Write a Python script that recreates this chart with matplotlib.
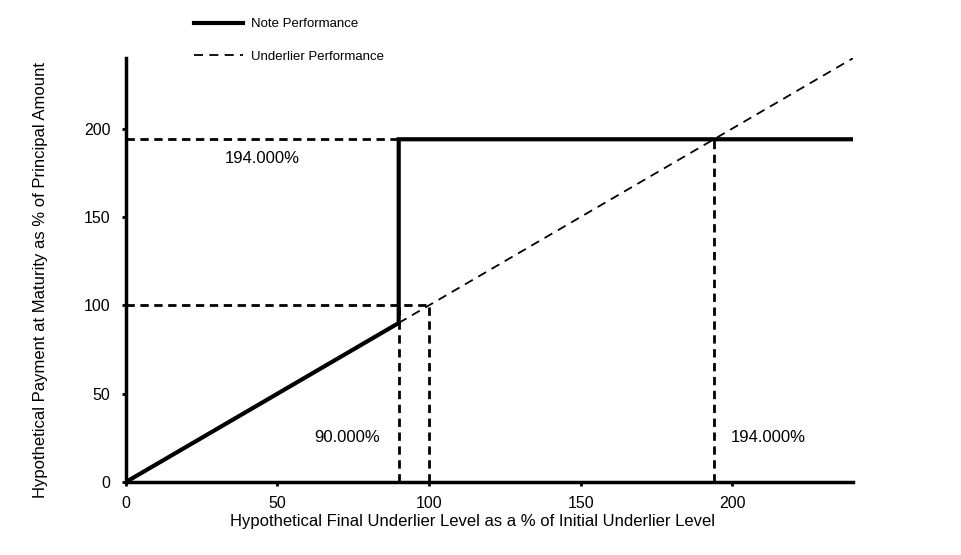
import matplotlib
matplotlib.use("Agg")
import matplotlib.pyplot as plt

plt.rcParams["font.family"] = ["Liberation Sans", "DejaVu Sans"]

# datos del grafico
nota_x = [0, 90, 90, 240]
nota_y = [0, 90, 194, 194]
subyacente_x = [90, 240]
subyacente_y = [90, 240]
cap = 194
umbral = 90
inicial = 100
ticks = [0, 50, 100, 150, 200]
etiquetas = [("194.000%", 45, 183), ("90.000%", 73, 25), ("194.000%", 212, 25)]

fig = plt.figure(figsize=(9.61, 5.55), dpi=100)
ax = fig.add_axes([0.131, 0.1315, 0.757, 0.764])

# lineas de referencia
ref = dict(color="black", linewidth=2, linestyle=(0, (3, 2)))
ax.plot([0, cap], [cap, cap], **ref)
ax.plot([0, inicial], [inicial, inicial], **ref)
ax.plot([umbral, umbral], [0, inicial], **ref)
ax.plot([inicial, inicial], [0, inicial], **ref)
ax.plot([cap, cap], [0, cap], **ref)

linea_sub, = ax.plot(subyacente_x, subyacente_y, color="black", linewidth=1.3,
                     linestyle=(0, (5, 3.5)), label="Underlier Performance")
linea_nota, = ax.plot(nota_x, nota_y, color="black", linewidth=3,
                      label="Note Performance", solid_joinstyle="miter")

for txt, x, y in etiquetas:
    ax.text(x, y, txt, ha="center", va="center", fontsize=12)

ax.set_xlim(0, 240)
ax.set_ylim(0, 240)
ax.set_xticks(ticks)
ax.set_yticks(ticks)
ax.tick_params(labelsize=11.5, width=2, length=3, direction="out")
ax.tick_params(axis="x", pad=7)
ax.tick_params(axis="y", pad=8)
for s in ["top", "right"]:
    ax.spines[s].set_visible(False)
for s in ["left", "bottom"]:
    ax.spines[s].set_linewidth(2.5)

ax.set_xlabel("Hypothetical Final Underlier Level as a % of Initial Underlier Level",
              fontsize=12)
ax.xaxis.set_label_coords(0.477, -0.076)
ax.set_ylabel("Hypothetical Payment at Maturity as % of Principal Amount",
              fontsize=12)
ax.yaxis.set_label_coords(-0.107, 0.476)

fig.legend(handles=[linea_nota, linea_sub], loc="upper left",
           bbox_to_anchor=(0.19, 0.989), frameon=False, fontsize=9.5,
           handlelength=3.7, handletextpad=0.55, labelspacing=1.55)

plt.savefig("out.png", dpi=100)
